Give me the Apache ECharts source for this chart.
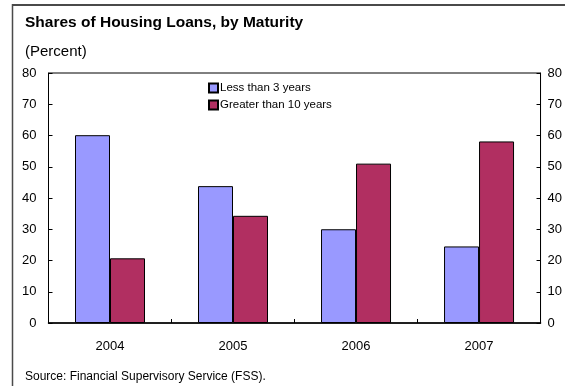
<!DOCTYPE html>
<html>
<head>
<meta charset="utf-8">
<script src="https://cdn.jsdelivr.net/npm/echarts@6/dist/echarts.min.js"></script>
<style>
  html, body { margin: 0; padding: 0; background: #fff; }
  #chart { width: 565px; height: 386px; }
</style>
</head>
<body>
<div id="chart"></div>
<script>
// Housing loan shares by maturity bucket (percent of total)
const years = ['2004', '2005', '2006', '2007'];
const lessThan3 = [60.1, 43.8, 30.0, 24.5];
const greaterThan10 = [20.7, 34.3, 51.0, 58.1];
const yTicks = { min: 0, max: 80, step: 10 };

const FONT = '"Liberation Sans", Arial, sans-serif';
const chart = echarts.init(document.getElementById('chart'), null, { renderer: 'canvas' });

const valueAxis = (pos) => ({
  type: 'value',
  position: pos,
  min: yTicks.min,
  max: yTicks.max,
  interval: yTicks.step,
  axisLine: { show: true, lineStyle: { color: '#000', width: 1 } },
  axisTick: { show: true, inside: true, length: 4, lineStyle: { color: '#000' } },
  splitLine: { show: false },
  axisLabel: { color: '#000', fontSize: 13, fontFamily: FONT, margin: pos === 'left' ? 12 : 7 }
});

chart.setOption({
  animation: false,
  backgroundColor: '#fff',
  title: [
    { text: 'Shares of Housing Loans, by Maturity', left: 20, top: 10,
      textStyle: { fontSize: 15.5, fontWeight: 'bold', color: '#000', fontFamily: FONT } },
    { text: '(Percent)', left: 20, top: 39,
      textStyle: { fontSize: 15, fontWeight: 'normal', color: '#000', fontFamily: FONT } },
    { text: 'Source: Financial Supervisory Service (FSS).', left: 20, top: 366,
      textStyle: { fontSize: 12, fontWeight: 'normal', color: '#000', fontFamily: FONT } }
  ],
  legend: {
    orient: 'vertical',
    left: 203,
    top: 77,
    itemWidth: 9,
    itemHeight: 9,
    itemGap: 5,
    icon: 'rect',
    textStyle: { fontSize: 11.5, color: '#000', fontFamily: FONT, padding: [0, 0, 0, -3] },
    data: ['Less than 3 years', 'Greater than 10 years']
  },
  grid: {
    left: 48.5, right: 24, top: 73, bottom: 63,
    show: true, borderColor: '#000', borderWidth: 1, backgroundColor: 'transparent'
  },
  xAxis: {
    type: 'category',
    data: years,
    boundaryGap: true,
    axisLine: { show: true, lineStyle: { color: '#000', width: 1.5 } },
    axisTick: { show: true, inside: true, length: 4, lineStyle: { color: '#000' } },
    axisLabel: { color: '#000', fontSize: 13, fontFamily: FONT, margin: 17 }
  },
  yAxis: [valueAxis('left'), valueAxis('right')],
  series: [
    {
      name: 'Less than 3 years',
      type: 'bar',
      data: lessThan3,
      barWidth: 35,
      barGap: '0%',
      itemStyle: { color: '#9999FF', borderColor: '#000', borderWidth: 1 }
    },
    {
      name: 'Greater than 10 years',
      type: 'bar',
      data: greaterThan10,
      barWidth: 35,
      barGap: '0%',
      itemStyle: { color: '#B12F61', borderColor: '#000', borderWidth: 1 }
    }
  ],
  graphic: [
    { type: 'line', shape: { x1: 12, y1: 5, x2: 565, y2: 5 },
      style: { stroke: '#4a4a4a', lineWidth: 2 } },
    { type: 'line', shape: { x1: 12.5, y1: 4, x2: 12.5, y2: 386 },
      style: { stroke: '#4a4a4a', lineWidth: 1.5 } }
  ]
});
</script>
</body>
</html>
